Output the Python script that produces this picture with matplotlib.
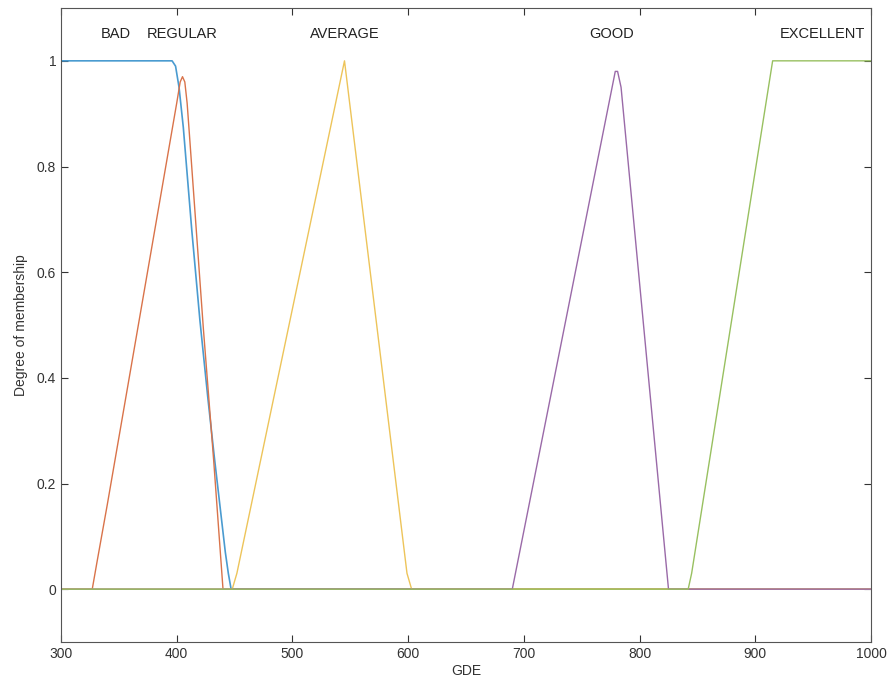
import numpy as np
import matplotlib
matplotlib.use("Agg")
import matplotlib.pyplot as plt

plt.rcParams['font.family'] = ['Liberation Sans', 'DejaVu Sans']

# membership functions (GDE, degree)
bad_x = [300, 396, 399, 402, 405.7, 413, 420, 427, 432.5, 442, 444.6, 447, 1000]
bad_y = [1.0, 1.0, 0.99, 0.95, 0.874, 0.68, 0.51, 0.36, 0.25, 0.07, 0.03, 0.0, 0.0]

regular_x = [300, 327, 331, 340, 400, 403, 405, 407, 409, 411, 423, 432, 440, 1000]
regular_y = [0.0, 0.0, 0.05, 0.16, 0.92, 0.96, 0.97, 0.96, 0.92, 0.86, 0.494, 0.242, 0.0, 0.0]

average_x = [300, 448, 452, 545, 599, 603, 1000]
average_y = [0.0, 0.0, 0.03, 1.0, 0.03, 0.0, 0.0]

good_x = [300, 690, 779, 781, 784, 825, 1000]
good_y = [0.0, 0.0, 0.98, 0.98, 0.95, 0.0, 0.0]

excellent_x = [300, 842, 845, 915, 1000]
excellent_y = [0.0, 0.0, 0.03, 1.0, 1.0]

names = ['BAD', 'REGULAR', 'AVERAGE', 'GOOD', 'EXCELLENT']
name_x = [347, 405, 545, 776, 958]

colors = ['#4a9bd0', '#d9734a', '#edc45a', '#9a6aa8', '#98c060']

fig = plt.figure(figsize=(8.9, 6.9), dpi=100)
ax = fig.add_axes([61/890, 1 - 642/690, 810/890, 634/690])

ax.plot(bad_x, bad_y, color=colors[0], lw=1.2)
ax.plot(regular_x, regular_y, color=colors[1], lw=1.0)
ax.plot(average_x, average_y, color=colors[2], lw=1.0)
ax.plot(good_x, good_y, color=colors[3], lw=1.0)
ax.plot(excellent_x, excellent_y, color=colors[4], lw=1.0)

for n, xp in zip(names, name_x):
    ax.text(xp, 1.05, n, ha='center', va='center', fontsize=10.5, color='#222222')

ax.set_xlim(300, 1000)
ax.set_ylim(-0.1, 1.1)
ax.set_xticks([300, 400, 500, 600, 700, 800, 900, 1000])
ax.set_yticks([0, 0.2, 0.4, 0.6, 0.8, 1])
ax.set_yticklabels(['0', '0.2', '0.4', '0.6', '0.8', '1'])
ax.tick_params(direction='in', top=True, right=True, labelsize=10, colors='#333333', length=5)
for s in ax.spines.values():
    s.set_color('#555555')
    s.set_linewidth(0.8)
ax.set_xlabel('GDE', fontsize=10, color='#333333', labelpad=2)
ax.set_ylabel('Degree of membership', fontsize=10, color='#333333', labelpad=6)

fig.savefig('out.png', dpi=100)
